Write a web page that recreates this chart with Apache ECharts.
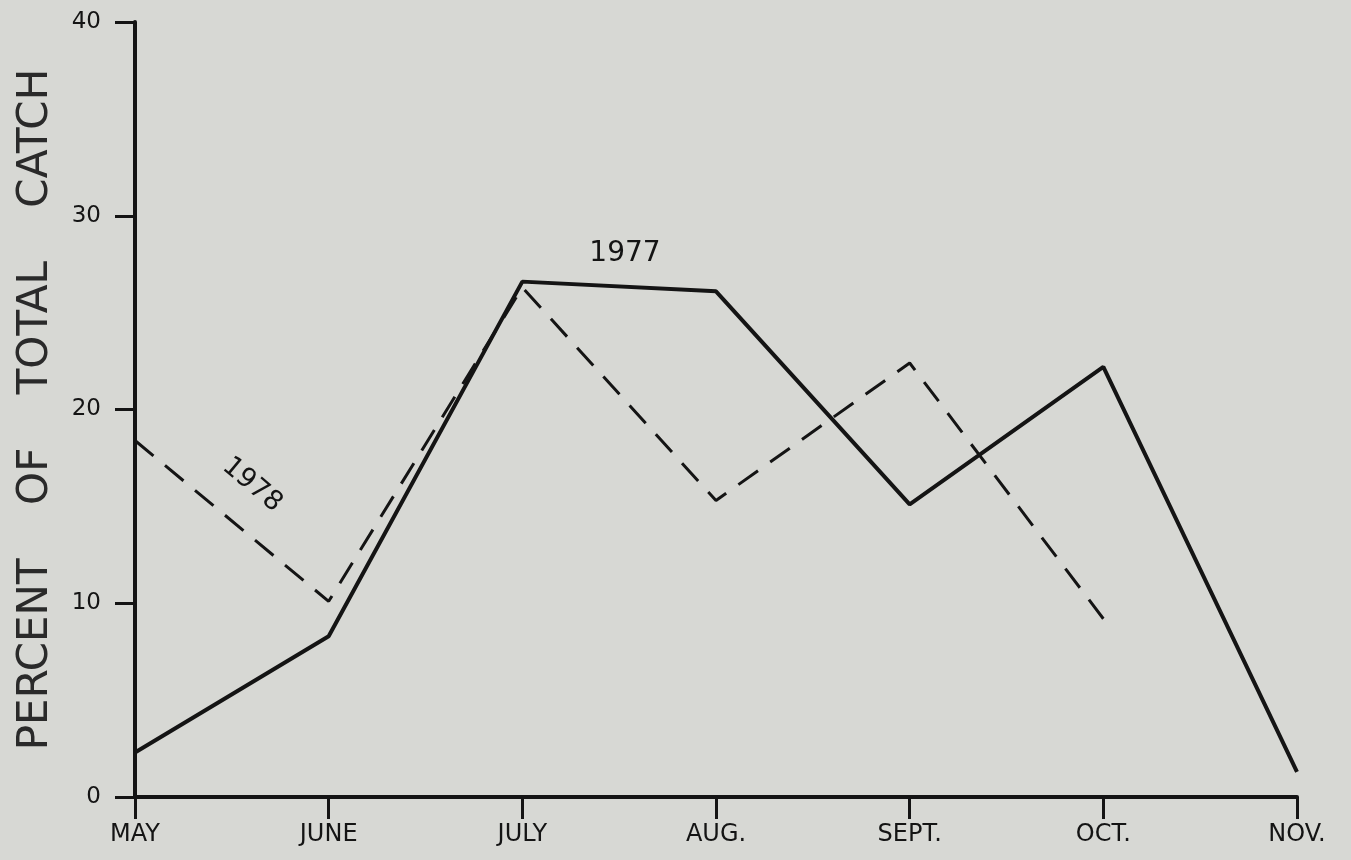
<!DOCTYPE html>
<html>
<head>
<meta charset="utf-8">
<script src="https://cdn.jsdelivr.net/npm/echarts@6/dist/echarts.min.js"></script>
<style>
html,body{margin:0;padding:0;background:#d7d8d4;}
#c{width:1351px;height:860px;}
</style>
</head>
<body>
<div id="c"></div>
<script>
const months = ['MAY', 'JUNE', 'JULY', 'AUG.', 'SEPT.', 'OCT.', 'NOV.'];
const catch1977 = [2.3, 8.3, 26.6, 26.1, 15.1, 22.2, 1.3];
const catch1978 = [18.4, 10.1, 26.3, 15.3, 22.4, 9.2, null];
const yTicks = [0, 10, 20, 30, 40];

const chart = echarts.init(document.getElementById('c'));
const ink = '#141414';
const font = 'DejaVu Sans';
chart.setOption({
  backgroundColor: '#d7d8d4',
  animation: false,
  grid: {left: 135, right: 54, top: 22, bottom: 63},
  xAxis: {
    type: 'category',
    data: months,
    boundaryGap: false,
    axisLine: {lineStyle: {color: ink, width: 4}},
    axisTick: {show: true, length: 22, lineStyle: {color: ink, width: 3}},
    axisLabel: {color: ink, fontFamily: font, fontSize: 24, margin: 26}
  },
  yAxis: {
    type: 'value',
    min: yTicks[0], max: yTicks[yTicks.length - 1], interval: 10,
    name: 'PERCENT    OF    TOTAL    CATCH',
    nameLocation: 'middle',
    nameGap: 78,
    nameTextStyle: {color: '#2a2a2a', fontFamily: font, fontSize: 42},
    splitLine: {show: false},
    axisLine: {show: true, lineStyle: {color: ink, width: 4}},
    axisTick: {show: true, length: 20, lineStyle: {color: ink, width: 3}},
    axisLabel: {color: ink, fontFamily: font, fontSize: 23, margin: 34}
  },
  series: [
    {
      name: '1977', type: 'line', data: catch1977, showSymbol: false, symbol: 'none',
      lineStyle: {color: ink, width: 4}
    },
    {
      name: '1978', type: 'line', data: catch1978, showSymbol: false, symbol: 'none',
      connectNulls: false,
      lineStyle: {color: ink, width: 3, type: [24, 15]}
    }
  ],
  graphic: [
    {type: 'text', x: 625, y: 254, style: {text: '1977', fill: ink, font: '28px "DejaVu Sans"', align: 'center', verticalAlign: 'middle'}},
    {type: 'text', x: 252, y: 485, rotation: -40 * Math.PI / 180, style: {text: '1978', fill: ink, font: '27px "DejaVu Sans"', align: 'center', verticalAlign: 'middle'}}
  ]
});
</script>
</body>
</html>
